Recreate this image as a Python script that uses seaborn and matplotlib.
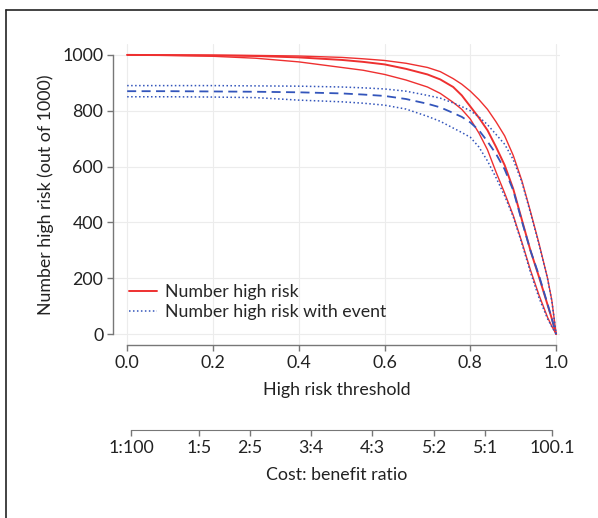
import numpy as np
import pandas as pd
import seaborn as sns
import matplotlib.pyplot as plt
from matplotlib.lines import Line2D

# risk thresholds and read-off curve values (out of 1000)
threshold = [0.0, 0.1, 0.2, 0.3, 0.4, 0.5, 0.55, 0.6, 0.65, 0.7, 0.73, 0.76,
             0.78, 0.8, 0.82, 0.84, 0.86, 0.88, 0.9, 0.92, 0.94, 0.96, 0.98,
             0.99, 1.0]
high_risk = [1000, 999, 998, 996, 991, 982, 975, 966, 950, 930, 912, 885,
             855, 815, 775, 730, 670, 605, 520, 410, 300, 205, 105, 55, 0]
high_risk_hi = [1000, 1000, 999, 998, 996, 991, 986, 980, 970, 955, 940, 915,
                895, 870, 840, 805, 760, 710, 640, 550, 440, 325, 200, 120, 0]
high_risk_lo = [1000, 998, 995, 988, 975, 955, 945, 930, 910, 885, 862, 830,
                805, 770, 720, 660, 580, 505, 425, 330, 230, 140, 60, 28, 0]
event = [870, 870, 869, 868, 866, 862, 858, 853, 842, 825, 812, 792,
         778, 758, 730, 690, 645, 590, 515, 405, 300, 210, 108, 55, 0]
event_hi = [890, 890, 890, 889, 888, 885, 882, 878, 870, 855, 845, 828,
            815, 800, 778, 750, 715, 680, 625, 545, 435, 322, 198, 118, 0]
event_lo = [850, 850, 849, 847, 838, 832, 827, 820, 806, 780, 762, 738,
            722, 705, 670, 620, 560, 495, 420, 325, 222, 130, 55, 26, 0]

cb_labels = ['1:100', '1:5', '2:5', '3:4', '4:3', '5:2', '5:1', '100.1']
cb_pos = [0.01, 1 / 6, 2 / 7, 3 / 7, 4 / 7, 5 / 7, 5 / 6, 0.99]

sns.set_style('whitegrid', {'grid.color': '#ececec'})
plt.rcParams['font.family'] = ['Lato', 'DejaVu Sans']
fs = 12.8

W, H = 598, 518
fig = plt.figure(figsize=(W / 100, H / 100), dpi=100)
ax = fig.add_axes([113 / W, 1 - 345 / H, 447 / W, 301 / H])

red = '#ee3030'
blue = '#3355bb'
dots = (0, (1, 1.6))
series = [
    (high_risk_hi, red, '-', 1.0),
    (high_risk_lo, red, '-', 1.0),
    (high_risk, red, '-', 1.4),
    (event_hi, blue, dots, 1.1),
    (event_lo, blue, dots, 1.1),
    (event, blue, (0, (5, 3)), 1.3),
]
for vals, col, ls, lw in series:
    df = pd.DataFrame({'t': threshold, 'n': vals})
    sns.lineplot(data=df, x='t', y='n', color=col, linestyle=ls, linewidth=lw,
                 ax=ax, legend=False)

ax.set_xlim(-0.033, 1.009)
ax.set_ylim(-39, 1039)
ax.set_xticks([0, 0.2, 0.4, 0.6, 0.8, 1.0])
ax.set_xticklabels(['0.0', '0.2', '0.4', '0.6', '0.8', '1.0'])
ax.set_yticks([0, 200, 400, 600, 800, 1000])
for s in ['top', 'right']:
    ax.spines[s].set_visible(False)
ax.spines['left'].set_bounds(0, 1000)
ax.spines['bottom'].set_bounds(0, 1)
for s in ['left', 'bottom']:
    ax.spines[s].set_color('#777777')
    ax.spines[s].set_linewidth(1.0)
ax.tick_params(axis='both', length=4, width=1, color='#777777',
               labelcolor='#222222', labelsize=fs, pad=3, direction='out',
               bottom=True, left=True)
ax.set_xlabel('High risk threshold', fontsize=fs, color='#222222', labelpad=8)
ax.set_ylabel('Number high risk (out of 1000)', fontsize=fs, color='#222222',
              labelpad=6)

handles = [Line2D([], [], color=red, lw=1.4, ls='-'),
           Line2D([], [], color=blue, lw=1.1, ls=dots)]
ax.legend(handles, ['Number high risk', 'Number high risk with event'],
          loc='lower left', bbox_to_anchor=(0.02, 0.06), frameon=False,
          fontsize=fs, handlelength=1.6, handletextpad=0.4, labelspacing=0.2,
          borderaxespad=0)

# cost:benefit ratio axis
ax2 = fig.add_axes([113 / W, 1 - 430 / H, 447 / W, 0.001])
ax2.set_xlim(ax.get_xlim())
ax2.set_facecolor('none')
ax2.grid(False)
for s in ['top', 'right', 'left']:
    ax2.spines[s].set_visible(False)
ax2.spines['bottom'].set_bounds(cb_pos[0], cb_pos[-1])
ax2.spines['bottom'].set_color('#777777')
ax2.set_yticks([])
ax2.set_xticks(cb_pos)
ax2.set_xticklabels(cb_labels)
ax2.tick_params(axis='x', length=4, width=1, color='#777777',
                labelcolor='#222222', labelsize=fs, pad=3, bottom=True)
ax2.set_xlabel('Cost: benefit ratio', fontsize=fs, color='#222222', labelpad=8)

# frame fragment (top and left border)
fig.add_artist(Line2D([6 / W, 6 / W], [0, 1 - 10 / H], color='#222222', lw=1.2,
                      transform=fig.transFigure))
fig.add_artist(Line2D([6 / W, 1], [1 - 10 / H, 1 - 10 / H], color='#222222',
                      lw=1.2, transform=fig.transFigure))

fig.savefig('out.png', dpi=100)
